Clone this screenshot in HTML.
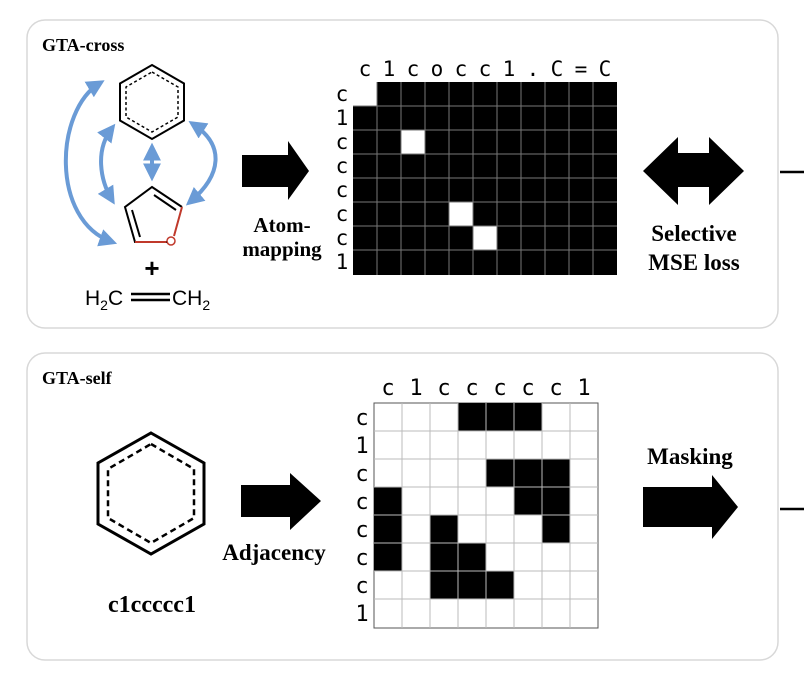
<!DOCTYPE html>
<html><head><meta charset="utf-8"><style>
html,body{margin:0;padding:0;background:#fff;}
svg{display:block;}
.b{font-family:"Liberation Serif",serif;font-weight:bold;}
.m{font-family:"DejaVu Sans Mono","Liberation Mono",monospace;}
</style></head><body>
<svg width="804" height="688" viewBox="0 0 804 688" xmlns="http://www.w3.org/2000/svg">
<defs>
<marker id="ah" viewBox="0 0 10 10" refX="7" refY="5" markerWidth="4.5" markerHeight="4.5" orient="auto-start-reverse">
<path d="M0,0 L10,5 L0,10 Z" fill="#6a9bd6"/></marker>
</defs>
<rect x="27" y="20" width="751" height="308" rx="18" fill="#fff" stroke="#d8d8d8" stroke-width="1.5"/>
<rect x="27" y="353" width="751" height="307" rx="18" fill="#fff" stroke="#d8d8d8" stroke-width="1.5"/>
<line x1="780" y1="172" x2="804" y2="172" stroke="#000" stroke-width="2.5"/>
<line x1="780" y1="509" x2="804" y2="509" stroke="#000" stroke-width="2.5"/>
<text x="42" y="51" class="b" font-size="18">GTA-cross</text>
<text x="42" y="384" class="b" font-size="18">GTA-self</text>

<polygon points="152,65 184,83.5 184,120.5 152,139 120,120.5 120,83.5" fill="none" stroke="#000" stroke-width="2"/>
<polygon points="152,72 178,87 178,117 152,132 126,117 126,87" fill="none" stroke="#000" stroke-width="1.5" stroke-dasharray="3,2.5"/>
<polyline points="171,242 135,242 125,207 152,187 182,207" fill="none" stroke="#000" stroke-width="2"/>
<line x1="182" y1="207" x2="174" y2="236" stroke="#c0392b" stroke-width="2"/>
<line x1="135" y1="242" x2="166" y2="242" stroke="#c0392b" stroke-width="2"/>
<circle cx="171" cy="241" r="4" fill="#fff" stroke="#c0392b" stroke-width="1.5"/>
<line x1="132" y1="210" x2="140" y2="237" stroke="#000" stroke-width="2"/>
<line x1="154" y1="195" x2="176" y2="210" stroke="#000" stroke-width="2"/>
<g stroke="#6a9bd6" stroke-width="4" fill="none" marker-start="url(#ah)" marker-end="url(#ah)">
<path d="M100,83 C55,110 50,220 112,242"/>
<path d="M112,128 C95,150 100,180 112,200"/>
<path d="M152,148 L152,176"/>
<path d="M193,124 C225,145 222,175 190,202"/>
</g>
<text x="152" y="277" text-anchor="middle" font-family="Liberation Sans,sans-serif" font-weight="bold" font-size="26">+</text>
<text x="85" y="305" font-family="Liberation Sans,sans-serif" font-size="21">H<tspan font-size="14" dy="5">2</tspan><tspan dy="-5">C</tspan></text>
<line x1="131" y1="294" x2="170" y2="294" stroke="#000" stroke-width="2.5"/>
<line x1="131" y1="300" x2="170" y2="300" stroke="#000" stroke-width="2.5"/>
<text x="172" y="305" font-family="Liberation Sans,sans-serif" font-size="21">CH<tspan font-size="14" dy="5">2</tspan></text>

<polygon points="242,155 288,155 288,141 309,171 288,200 288,187 242,187" fill="#000"/>
<text x="282" y="232" text-anchor="middle" class="b" font-size="21">Atom-</text>
<text x="282" y="256" text-anchor="middle" class="b" font-size="21">mapping</text>

<rect x="353" y="82" width="264" height="193" fill="#000"/>
<g fill="#fff">
<rect x="353" y="82" width="24" height="24"/>
<rect x="401" y="130" width="24" height="24"/>
<rect x="449" y="202" width="24" height="24"/>
<rect x="473" y="226" width="24" height="24"/>
</g>
<g stroke="#777" stroke-width="1">
<line x1="377" y1="82" x2="377" y2="275"/><line x1="401" y1="82" x2="401" y2="275"/><line x1="425" y1="82" x2="425" y2="275"/><line x1="449" y1="82" x2="449" y2="275"/><line x1="473" y1="82" x2="473" y2="275"/><line x1="497" y1="82" x2="497" y2="275"/><line x1="521" y1="82" x2="521" y2="275"/><line x1="545" y1="82" x2="545" y2="275"/><line x1="569" y1="82" x2="569" y2="275"/><line x1="593" y1="82" x2="593" y2="275"/>
<line x1="353" y1="106" x2="617" y2="106"/><line x1="353" y1="130" x2="617" y2="130"/><line x1="353" y1="154" x2="617" y2="154"/><line x1="353" y1="178" x2="617" y2="178"/><line x1="353" y1="202" x2="617" y2="202"/><line x1="353" y1="226" x2="617" y2="226"/><line x1="353" y1="250" x2="617" y2="250"/>
</g>
<g class="m" font-size="21" text-anchor="middle">
<text x="365" y="76">c</text><text x="389" y="76">1</text><text x="413" y="76">c</text><text x="437" y="76">o</text><text x="461" y="76">c</text><text x="485" y="76">c</text><text x="509" y="76">1</text><text x="533" y="76">.</text><text x="557" y="76">C</text><text x="581" y="76">=</text><text x="605" y="76">C</text>
<text x="342" y="101">c</text><text x="342" y="125">1</text><text x="342" y="149">c</text><text x="342" y="173">c</text><text x="342" y="197">c</text><text x="342" y="221">c</text><text x="342" y="245">c</text><text x="342" y="269">1</text>
</g>

<polygon points="643,171 678,137 678,153 709,153 709,137 744,171 709,205 709,187 678,187 678,205" fill="#000"/>
<text x="694" y="241" text-anchor="middle" class="b" font-size="23">Selective</text>
<text x="694" y="270" text-anchor="middle" class="b" font-size="23">MSE loss</text>

<polygon points="151,433 204,463 204,524 151,554 98,524 98,463" fill="none" stroke="#000" stroke-width="3"/>
<polygon points="151,444 194,469 194,518 151,543 108,518 108,469" fill="none" stroke="#000" stroke-width="2.5" stroke-dasharray="6,4"/>
<text x="152" y="612" text-anchor="middle" class="b" font-size="24">c1ccccc1</text>

<polygon points="241,485 290,485 290,473 321,501 290,530 290,517 241,517" fill="#000"/>
<text x="274" y="560" text-anchor="middle" class="b" font-size="23">Adjacency</text>

<rect x="374" y="403" width="224" height="225" fill="#fff" stroke="#555" stroke-width="1"/>
<g fill="#000">
<rect x="458" y="403" width="84" height="28"/>
<rect x="486" y="459" width="84" height="28"/>
<rect x="514" y="487" width="56" height="28"/>
<rect x="374" y="487" width="28" height="84"/>
<rect x="542" y="515" width="28" height="28"/>
<rect x="430" y="515" width="28" height="56"/>
<rect x="458" y="543" width="28" height="28"/>
<rect x="430" y="571" width="84" height="28"/>
</g>
<g stroke="#bbb" stroke-width="1">
<line x1="402" y1="403" x2="402" y2="628"/><line x1="430" y1="403" x2="430" y2="628"/><line x1="458" y1="403" x2="458" y2="628"/><line x1="486" y1="403" x2="486" y2="628"/><line x1="514" y1="403" x2="514" y2="628"/><line x1="542" y1="403" x2="542" y2="628"/><line x1="570" y1="403" x2="570" y2="628"/>
<line x1="374" y1="431" x2="598" y2="431"/><line x1="374" y1="459" x2="598" y2="459"/><line x1="374" y1="487" x2="598" y2="487"/><line x1="374" y1="515" x2="598" y2="515"/><line x1="374" y1="543" x2="598" y2="543"/><line x1="374" y1="571" x2="598" y2="571"/><line x1="374" y1="599" x2="598" y2="599"/>
</g>
<g class="m" font-size="22" text-anchor="middle">
<text x="388" y="395">c</text><text x="416" y="395">1</text><text x="444" y="395">c</text><text x="472" y="395">c</text><text x="500" y="395">c</text><text x="528" y="395">c</text><text x="556" y="395">c</text><text x="584" y="395">1</text>
<text x="362" y="425">c</text><text x="362" y="453">1</text><text x="362" y="481">c</text><text x="362" y="509">c</text><text x="362" y="537">c</text><text x="362" y="565">c</text><text x="362" y="593">c</text><text x="362" y="621">1</text>
</g>

<text x="690" y="464" text-anchor="middle" class="b" font-size="23">Masking</text>
<polygon points="643,487 712,487 712,475 738,507 712,539 712,527 643,527" fill="#000"/>
</svg>
</body></html>
